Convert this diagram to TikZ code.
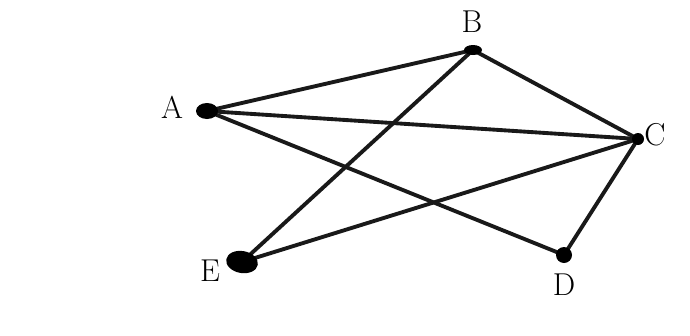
\documentclass[tikz,border=0pt]{standalone}
\usetikzlibrary{shapes.geometric}
\begin{document}
\begin{tikzpicture}[x=0.02cm,y=-0.02cm,
  edge/.style={line width=2.2pt,black!90},
  lbl/.style={font=\fontsize{18}{20}\selectfont}]
\useasboundingbox (0,0) rectangle (690,335);
\coordinate (A) at (207,111);
\coordinate (B) at (473,50);
\coordinate (C) at (638,139);
\coordinate (D) at (564,255);
\coordinate (E) at (242,262);
\draw[edge] (A) -- (B);
\draw[edge] (A) -- (C);
\draw[edge] (A) -- (D);
\draw[edge] (B) -- (C);
\draw[edge] (B) -- (E);
\draw[edge] (C) -- (E);
\draw[edge] (C) -- (D);
\fill (A) ellipse [x radius=11, y radius=8];
\fill (B) ellipse [x radius=9, y radius=5];
\fill (C) circle [radius=6];
\fill (D) circle [radius=8];
\fill[rotate around={-10:(E)}] (E) ellipse [x radius=16, y radius=11];
\node[lbl] (la) at (172,107) {A};
\node[lbl] (lb) at (472,22) {B};
\node[lbl] (lc) at (655,135) {C};
\node[lbl] (ld) at (564,285) {D};
\node[lbl] (le) at (210,271) {E};
\end{tikzpicture}
\end{document}
